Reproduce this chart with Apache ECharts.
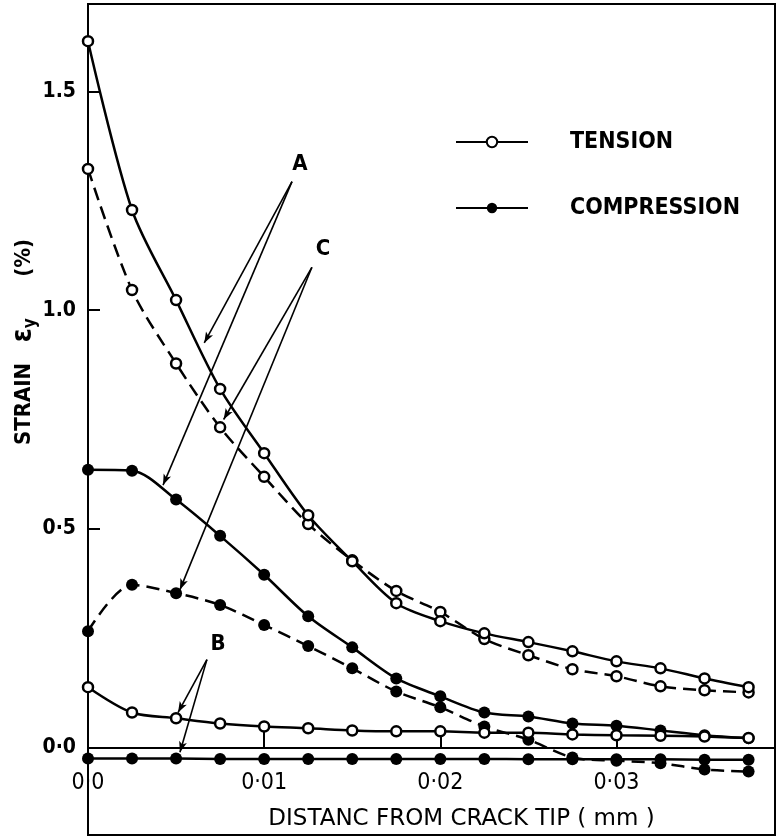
<!DOCTYPE html>
<html>
<head>
<meta charset="utf-8">
<script src="https://cdn.jsdelivr.net/npm/echarts@6/dist/echarts.min.js"></script>
<style>
html,body{margin:0;padding:0;background:#fff;}
#chart{width:776px;height:837px;}
</style>
</head>
<body>
<div id="chart"></div>
<script>
// ---- data ----
const xValues = [0, 0.0025, 0.005, 0.0075, 0.01, 0.0125, 0.015, 0.0175, 0.02, 0.0225, 0.025, 0.0275, 0.03, 0.0325, 0.035, 0.0375];
// Curve A (solid)
const tensionA     = [1.615, 1.229, 1.023, 0.820, 0.673, 0.531, 0.426, 0.330, 0.289, 0.261, 0.241, 0.220, 0.197, 0.181, 0.158, 0.138];
const compressionA = [0.635, 0.633, 0.567, 0.484, 0.395, 0.300, 0.229, 0.158, 0.117, 0.080, 0.071, 0.055, 0.050, 0.039, 0.028, 0.021];
// Curve C (dashed)
const tensionC     = [1.323, 1.046, 0.878, 0.732, 0.619, 0.511, 0.428, 0.358, 0.310, 0.248, 0.211, 0.179, 0.163, 0.140, 0.131, 0.126];
const compressionC = [0.266, 0.372, 0.353, 0.326, 0.280, 0.232, 0.181, 0.128, 0.092, 0.048, 0.018, -0.023, -0.030, -0.036, -0.050, -0.055];
// Curve B (solid)
const tensionB     = [0.138, 0.080, 0.067, 0.055, 0.048, 0.044, 0.039, 0.037, 0.037, 0.034, 0.034, 0.030, 0.028, 0.027, 0.025, 0.022];
const compressionB = [-0.025, -0.025, -0.025, -0.026, -0.026, -0.026, -0.026, -0.026, -0.026, -0.026, -0.027, -0.027, -0.027, -0.027, -0.028, -0.028];

const xTickValues = [0, 0.01, 0.02, 0.03];
const xTickLabels = ['0·0', '0·01', '0·02', '0·03'];
const yTickValues = [0, 0.5, 1.0, 1.5];
const yTickLabels = ['0·0', '0·5', '1.0', '1.5'];

const legendNames = ['TENSION', 'COMPRESSION'];
const xTitle = 'DISTANC FROM CRACK TIP ( mm )';

// annotation arrows (data coordinates): letter position, apex, arrow tips
const annotations = [
  { letter: 'A', at: [0.01203, 1.333], apex: [0.01158, 1.294], tips: [[0.0066, 0.925], [0.00426, 0.600]] },
  { letter: 'C', at: [0.01334, 1.139], apex: [0.01271, 1.098], tips: [[0.0077, 0.750], [0.00522, 0.361]] },
  { letter: 'B', at: [0.00738, 0.236], apex: [0.00675, 0.201], tips: [[0.00511, 0.080], [0.00522, -0.011]] }
];

const FONT = '"DejaVu Sans Condensed", "Liberation Sans Narrow", "DejaVu Sans", sans-serif';
const FONT_WIDE = '"DejaVu Sans", "Liberation Sans", sans-serif';
const Y_MIN = -0.2, Y_MAX = 1.7;
const GRID = { left: 88, top: 4, right: 1, bottom: 2 };
const CHART_H = 837;

function pairs(vals) { return xValues.map((x, i) => [x, vals[i]]); }
function lookup(values, labels, v) {
  let best = 0;
  for (let i = 1; i < values.length; i++) if (Math.abs(values[i] - v) < Math.abs(values[best] - v)) best = i;
  return labels[best];
}
function mk(name, vals, filled, dashed, z) {
  return {
    type: 'line', name: name, data: pairs(vals), smooth: 0.3,
    symbol: 'circle', symbolSize: filled ? 12 : 10,
    lineStyle: { color: '#000', width: 2.5, type: dashed ? [13, 7] : 'solid' },
    itemStyle: { color: filled ? '#000' : '#fff', borderColor: '#000', borderWidth: filled ? 0 : 2.5 },
    z: z, silent: true
  };
}

const markLines = [];
const markPoints = [];
annotations.forEach(a => {
  a.tips.forEach(t => markLines.push([{ coord: a.apex }, { coord: t }]));
  markPoints.push({ coord: a.at, name: a.letter });
});

const series = [
  mk('TENSION', tensionA, false, false, 5),
  mk('COMPRESSION', compressionA, true, false, 4),
  mk('TENSION C', tensionC, false, true, 3),
  mk('COMPRESSION C', compressionC, true, true, 3),
  mk('TENSION B', tensionB, false, false, 4),
  mk('COMPRESSION B', compressionB, true, false, 3)
];
series.push({
  type: 'line', name: 'annotations', data: [], silent: true, z: 6,
  markLine: {
    silent: true, animation: false,
    symbol: ['none', 'arrow'], symbolSize: [6, 11],
    itemStyle: { color: '#000' },
    lineStyle: { color: '#000', width: 1.6, type: 'solid' },
    label: { show: false },
    data: markLines
  },
  markPoint: {
    silent: true, animation: false,
    symbol: 'circle', symbolSize: 1,
    itemStyle: { color: 'rgba(0,0,0,0)' },
    label: { show: true, position: 'inside', formatter: p => p.name, color: '#000', fontSize: 22, fontWeight: 'bold', fontFamily: FONT },
    data: markPoints
  }
});

// distance (px) from grid bottom up to the zero line, so the x axis sits on y = 0
const gridH = CHART_H - GRID.top - GRID.bottom;
const zeroOffset = gridH * (0 - Y_MIN) / (Y_MAX - Y_MIN);

const chart = echarts.init(document.getElementById('chart'), null, { renderer: 'canvas' });
chart.setOption({
  animation: false,
  backgroundColor: '#fff',
  grid: Object.assign({ containLabel: false, outerBoundsMode: 'none', show: true, borderColor: '#000', borderWidth: 2, backgroundColor: 'transparent' }, GRID),
  legend: {
    data: legendNames, left: 450, top: 124, orient: 'vertical',
    itemWidth: 72, itemHeight: 13, itemGap: 40, selectedMode: false,
    textStyle: { color: '#000', fontSize: 23, fontWeight: 'bold', fontFamily: FONT, padding: [0, 0, 0, 37], lineHeight: 26 }
  },
  xAxis: {
    type: 'value', min: 0, max: 0.039, offset: -zeroOffset,
    axisLine: { onZero: false, lineStyle: { color: '#000', width: 2 } },
    axisTick: { show: true, inside: true, length: 18, lineStyle: { color: '#000', width: 2 }, customValues: [0.01, 0.02, 0.03] },
    axisLabel: { customValues: xTickValues, formatter: v => lookup(xTickValues, xTickLabels, v), color: '#000', fontSize: 23, fontFamily: FONT, margin: 24 },
    splitLine: { show: false },
    name: xTitle, nameLocation: 'middle', nameGap: 60,
    nameTextStyle: { color: '#000', fontSize: 23, fontFamily: FONT_WIDE, padding: [0, 0, 0, 60] }
  },
  yAxis: {
    type: 'value', min: Y_MIN, max: Y_MAX,
    axisLine: { show: true, onZero: false, lineStyle: { color: '#000', width: 2 } },
    axisTick: { show: true, inside: true, length: 12, lineStyle: { color: '#000', width: 2 }, customValues: [0.5, 1.0, 1.5] },
    axisLabel: { customValues: yTickValues, formatter: v => lookup(yTickValues, yTickLabels, v), color: '#000', fontSize: 21, fontWeight: 'bold', fontFamily: FONT, margin: 12 },
    splitLine: { show: false }
  },
  graphic: [{
    type: 'text', x: 24, y: 342, rotation: Math.PI / 2,
    style: {
      text: '{a|STRAIN   }{e|ε}{s|y}{a|      (%)}',
      align: 'center', verticalAlign: 'middle',
      rich: {
        a: { fontSize: 22, fontWeight: 'bold', fontFamily: FONT, fill: '#000', lineHeight: 30, verticalAlign: 'middle' },
        e: { fontSize: 28, fontWeight: 'bold', fontFamily: FONT, fill: '#000', lineHeight: 30, verticalAlign: 'middle' },
        s: { fontSize: 17, fontWeight: 'bold', fontFamily: FONT, fill: '#000', lineHeight: 30, verticalAlign: 'bottom', padding: [10, 0, 0, 0] }
      }
    }
  }],
  series: series
});
</script>
</body>
</html>
